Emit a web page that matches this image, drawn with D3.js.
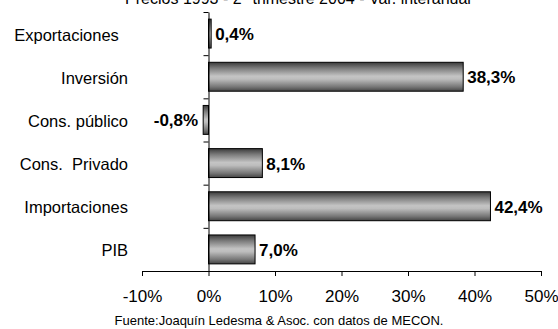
<!DOCTYPE html>
<html>
<head>
<meta charset="utf-8">
<script src="https://cdn.jsdelivr.net/npm/d3@7"></script>
<style>
  html, body { margin: 0; padding: 0; background: #fff; }
  svg { display: block; font-family: Arial, "Liberation Sans", sans-serif; }
</style>
</head>
<body>
<svg id="chart" width="558" height="329"></svg>
<script>
// Variación interanual por componente de la demanda
const categories = ["Exportaciones", "Inversión", "Cons. público", "Cons.  Privado", "Importaciones", "PIB"];
const values = [0.4, 38.3, -0.8, 8.1, 42.4, 7.0];
const valueLabels = ["0,4%", "38,3%", "-0,8%", "8,1%", "42,4%", "7,0%"];
const xTicks = [-10, 0, 10, 20, 30, 40, 50];
const xTickLabels = ["-10%", "0%", "10%", "20%", "30%", "40%", "50%"];
const title = "Precios 1993 - 2° trimestre 2004 - Var. interanual";
const source = "Fuente:Joaquín Ledesma & Asoc. con datos de MECON.";

const svg = d3.select("#chart");
const plot = { left: 142, right: 541, top: 12, bottom: 271 };

const x = d3.scaleLinear().domain([-10, 50]).range([plot.left, plot.right]);
const y = d3.scaleBand().domain(categories).range([plot.top, plot.bottom])
  .paddingInner(0.33).paddingOuter(0.165);
const yEdge = d3.scaleLinear().domain([0, categories.length]).range([plot.top, plot.bottom]);

// Cylinder-like shading for the bars
const grad = svg.append("defs").append("linearGradient")
  .attr("id", "barShade").attr("x1", 0).attr("y1", 0).attr("x2", 0).attr("y2", 1);
[["0%", "#3a3a3a"], ["20%", "#7a7a7a"], ["48%", "#c4c4c4"], ["58%", "#bdbdbd"], ["85%", "#767676"], ["100%", "#444"]]
  .forEach(([o, c]) => grad.append("stop").attr("offset", o).attr("stop-color", c));

// Title (top of the frame)
svg.append("text").attr("x", 298).attr("y", 4).attr("text-anchor", "middle")
  .attr("font-size", 16).attr("fill", "#000").text(title);

// Bars
svg.append("g").selectAll("rect").data(values).join("rect")
  .attr("x", d => x(Math.min(0, d)))
  .attr("y", (d, i) => y(categories[i]))
  .attr("width", d => Math.abs(x(d) - x(0)))
  .attr("height", y.bandwidth())
  .attr("fill", "url(#barShade)")
  .attr("stroke", "#000").attr("stroke-width", 1);

// Value labels
svg.append("g").selectAll("text").data(values).join("text")
  .attr("x", d => d < 0 ? x(d) - 5 : x(d) + 4)
  .attr("y", (d, i) => y(categories[i]) + y.bandwidth() / 2)
  .attr("dy", "0.38em")
  .attr("text-anchor", d => d < 0 ? "end" : "start")
  .attr("font-size", 17).attr("font-weight", "bold").attr("fill", "#000")
  .text((d, i) => valueLabels[i]);

// Bottom axis
const xAxis = d3.axisBottom(x).tickValues(xTicks).tickSize(5).tickPadding(14)
  .tickFormat((d, i) => xTickLabels[i]);
const gx = svg.append("g").attr("transform", `translate(0,${plot.bottom})`).call(xAxis);
gx.select(".domain").attr("stroke", "#000");
gx.selectAll(".tick line").attr("stroke", "#000");
gx.selectAll(".tick text").attr("font-size", 17).attr("font-family", "Arial, 'Liberation Sans', sans-serif").attr("fill", "#000");

// Category axis at zero, with ticks between categories
const yAxis = d3.axisLeft(yEdge).tickValues(d3.range(categories.length + 1)).tickSize(5).tickSizeOuter(0).tickFormat("");
const gy = svg.append("g").attr("transform", `translate(${x(0)},0)`).call(yAxis);
gy.select(".domain").attr("stroke", "#000");
gy.selectAll(".tick line").attr("stroke", "#000");

// Category labels
svg.append("g").selectAll("text").data(categories).join("text")
  .attr("x", 128)
  .attr("y", d => y(d) + y.bandwidth() / 2)
  .attr("dy", "0.42em")
  .attr("text-anchor", "end")
  .attr("font-size", 16.5).attr("fill", "#000")
  .style("white-space", "pre")
  .text(d => d === "Exportaciones" ? d + "  " : d);

// Source note
svg.append("text").attr("x", 279).attr("y", 325).attr("text-anchor", "middle")
  .attr("font-size", 13).attr("fill", "#000").text(source);
</script>
</body>
</html>
